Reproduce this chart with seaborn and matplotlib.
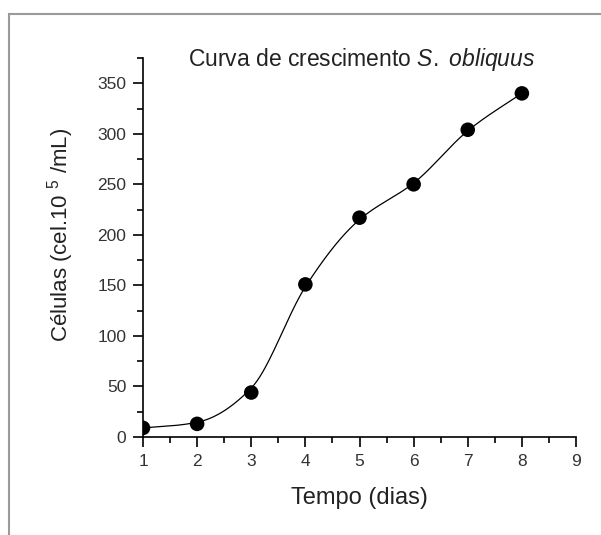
import numpy as np
import pandas as pd
import matplotlib
matplotlib.use("Agg")
import matplotlib.pyplot as plt
from matplotlib.patches import Rectangle
from matplotlib.ticker import MultipleLocator
import seaborn as sns

# growth curve data
dias = [1, 2, 3, 4, 5, 6, 7, 8]
celulas = [9, 13, 44, 151, 217, 250, 304, 340]


def pchip(x, y, xs):
    # monotone cubic (Fritsch-Carlson) curve through the points
    x = np.asarray(x, float)
    y = np.asarray(y, float)
    h = np.diff(x)
    delta = np.diff(y) / h
    d = np.zeros_like(y)
    for k in range(1, len(x) - 1):
        if delta[k - 1] * delta[k] > 0:
            w1 = 2 * h[k] + h[k - 1]
            w2 = h[k] + 2 * h[k - 1]
            d[k] = (w1 + w2) / (w1 / delta[k - 1] + w2 / delta[k])
    d[0] = delta[0]
    d[-1] = delta[-1]
    idx = np.clip(np.searchsorted(x, xs) - 1, 0, len(x) - 2)
    t = (xs - x[idx]) / h[idx]
    return ((2 * t**3 - 3 * t**2 + 1) * y[idx]
            + (t**3 - 2 * t**2 + t) * h[idx] * d[idx]
            + (-2 * t**3 + 3 * t**2) * y[idx + 1]
            + (t**3 - t**2) * h[idx] * d[idx + 1])


def bspline(x, y, xs, n=60):
    # clamped uniform cubic B-spline, data used as control points
    P = np.column_stack([x, y]).astype(float)
    P = np.vstack([P[:1], P[:1], P, P[-1:], P[-1:]])
    B = np.array([[-1, 3, -3, 1],
                  [3, -6, 3, 0],
                  [-3, 0, 3, 0],
                  [1, 4, 1, 0]]) / 6.0
    t = np.linspace(0, 1, n)
    T = np.column_stack([t**3, t**2, t, np.ones_like(t)])
    pts = np.vstack([T @ B @ P[i:i + 4] for i in range(len(P) - 3)])
    return np.interp(xs, pts[:, 0], pts[:, 1])


df = pd.DataFrame({"dias": dias, "celulas": celulas})
xs = np.linspace(dias[0], dias[-1], 400)
# smooth connecting line: mostly through the points, lightly smoothed
ys = 0.65 * pchip(dias, celulas, xs) + 0.35 * bspline(dias, celulas, xs)
curve = pd.DataFrame({"dias": xs, "celulas": ys})

sns.set_theme(style="ticks")
plt.rcParams["font.family"] = ["Liberation Sans", "DejaVu Sans"]
plt.rcParams["mathtext.fontset"] = "custom"
plt.rcParams["mathtext.rm"] = "Liberation Sans"
plt.rcParams["mathtext.it"] = "Liberation Sans:italic"

fig = plt.figure(figsize=(6.01, 5.35), dpi=100)
ax = fig.add_axes([143 / 601, 1 - 437 / 535, (576 - 143) / 601, (437 - 58) / 535])

# outer grey frame (partly runs off the image, like the reference crop)
fig.patches.append(Rectangle((9 / 601, -0.1), 1.2, 1.1 - 14 / 535,
                             transform=fig.transFigure, fill=False,
                             edgecolor="#9a9a9a", linewidth=1.5, zorder=0))

sns.lineplot(data=curve, x="dias", y="celulas", ax=ax, color="black",
             linewidth=0.9, sort=True, estimator=None)
sns.scatterplot(data=df, x="dias", y="celulas", ax=ax, color="black",
                s=110, edgecolor="none", zorder=3)

ax.set_xlim(1, 9)
ax.set_ylim(0, 375)
ax.xaxis.set_major_locator(MultipleLocator(1))
ax.xaxis.set_minor_locator(MultipleLocator(0.5))
ax.yaxis.set_major_locator(MultipleLocator(50))
ax.yaxis.set_minor_locator(MultipleLocator(25))
ax.set_yticks(range(0, 351, 50))
ax.tick_params(which="major", length=7, width=1.2, color="black",
               labelsize=12.5, labelcolor="#333333", pad=5)
ax.tick_params(which="minor", length=4, width=1.2, color="black")

sns.despine(ax=ax)
for side in ["left", "bottom"]:
    ax.spines[side].set_linewidth(1.2)
    ax.spines[side].set_color("black")

ax.set_xlabel("Tempo (dias)", fontsize=17, labelpad=13, color="#222222")
ax.set_ylabel("Células (cel.10 $^{5}$ /mL)", fontsize=16, color="#222222")
ax.yaxis.set_label_coords(-0.155, 0.532)
ax.text(0.505, 0.995, "Curva de crescimento $\\mathit{S.\\ obliquus}$",
        transform=ax.transAxes, ha="center", va="center", fontsize=16.5,
        color="#222222")

fig.savefig("out.png", dpi=100)
